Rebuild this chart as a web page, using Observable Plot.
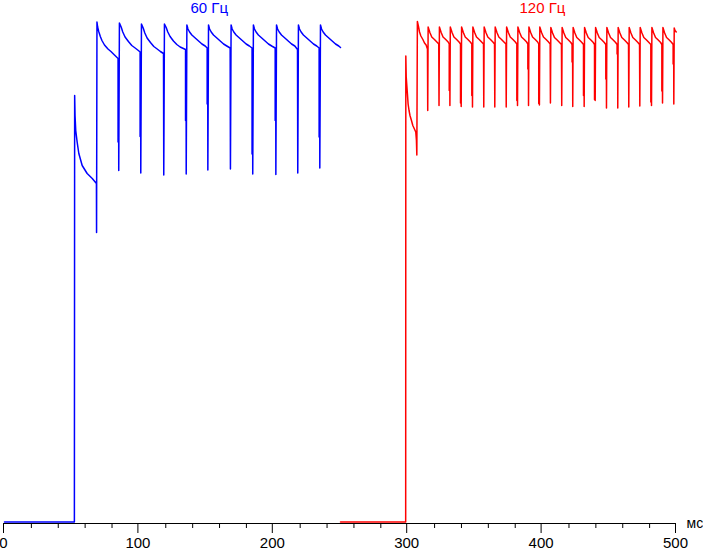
<!DOCTYPE html>
<html>
<head>
<meta charset="utf-8">
<script src="https://cdn.jsdelivr.net/npm/d3@7"></script>
<script src="https://cdn.jsdelivr.net/npm/@observablehq/plot@0.6"></script>
<style>
  html, body { margin: 0; padding: 0; background: #fff; }
</style>
</head>
<body>
<div id="chart"></div>
<script>
// time in ms, level in relative units (0..100)
const blue60 = [
[0,0.3],[52.0,0.3],[52.2,85.6],[52.5,81.5],[53.0,78.6],[54.1,76.2],[55.3,74.0],[57.8,71.6],[61.5,70.0],[65.3,69.0],[68.4,68.0],[68.5,58.2],[68.8,100.3],
[69.3,99.3],[70.1,98.4],[71.3,97.4],[72.5,96.6],[74.4,95.7],[77.0,94.9],[79.2,94.4],[82.2,93.6],[84.5,93.0],[84.5,76.3],[84.9,92.9],[85.0,70.6],[85.5,100.1],
[86.8,99.3],[88.0,98.3],[89.7,97.3],[92.2,96.4],[94.7,95.6],[97.2,95.1],[99.6,94.6],[100.9,94.3],[100.9,77.4],[101.3,94.2],[101.4,70.1],[101.9,99.9],
[103.2,99.1],[104.4,98.1],[106.1,97.1],[108.6,96.2],[111.1,95.4],[113.6,94.9],[116.0,94.4],[118.3,94.0],[118.5,69.7],[119.0,99.9],
[120.3,99.2],[121.5,98.3],[123.2,97.4],[125.7,96.5],[128.2,95.8],[130.7,95.3],[133.1,95.0],[134.7,94.8],[134.7,80.6],[135.1,94.7],[135.2,69.9],[135.7,99.7],
[136.5,98.9],[137.7,98.3],[139.4,97.7],[141.9,97.1],[144.4,96.5],[146.9,95.9],[149.3,95.5],[150.8,95.1],[150.8,83.9],[151.2,95.0],[151.3,70.7],[151.8,99.7],
[152.6,98.9],[153.8,98.3],[155.5,97.7],[158.0,97.1],[160.5,96.5],[163.0,95.9],[165.4,95.5],[167.9,95.1],[168.1,70.9],[168.6,99.7],
[169.4,98.9],[170.6,98.3],[172.3,97.7],[174.8,97.1],[177.3,96.5],[179.8,95.9],[182.2,95.5],[184.2,95.1],[184.2,73.9],[184.6,95.0],[184.7,69.9],[185.2,99.7],
[186.0,98.9],[187.2,98.3],[188.9,97.7],[191.4,97.1],[193.9,96.5],[196.4,95.9],[198.8,95.5],[201.4,95.1],[201.4,80.6],[201.8,95.0],[201.9,69.8],[202.4,99.7],
[203.2,98.9],[204.4,98.3],[206.1,97.7],[208.6,97.1],[211.1,96.5],[213.6,95.9],[216.0,95.5],[218.0,94.8],[218.2,70.1],[218.7,99.7],
[219.5,98.9],[220.7,98.3],[222.4,97.7],[224.9,97.1],[227.4,96.5],[229.9,95.9],[232.3,95.5],[234.1,95.1],[234.1,77.3],[234.5,95.0],[234.6,71.1],[235.1,99.7],
[235.9,98.9],[237.1,98.3],[238.8,97.7],[241.3,97.1],[243.8,96.5],[246.3,95.9],[248.7,95.5],[250.0,95.2]
];

const red120 = [
[250,0.3],[298.5,0.3],[298.6,93.5],[298.9,89.3],[299.8,85.9],[300.3,83.9],[301.0,82.6],[301.7,81.6],[302.8,80.6],[303.8,79.6],[305.0,78.9],[306.0,78.3],[306.5,76.6],[306.8,73.7],[307.2,100.4],
[308.1,99.3],[308.8,98.3],[309.8,97.5],[311.3,96.8],[312.5,96.1],[313.7,95.7],[314.7,94.9],[314.9,82.6],[315.2,99.3],
[315.9,98.7],[316.5,98.2],[317.9,97.3],[319.9,96.8],[321.7,96.3],[323.1,95.9],[323.3,83.6],[323.6,99.3],
[324.3,98.7],[324.9,98.2],[326.3,97.3],[328.3,96.8],[330.1,96.3],[330.9,95.9],[330.9,86.6],[331.3,95.8],[331.4,83.6],[331.7,99.3],
[332.4,98.7],[333.0,98.2],[334.4,97.3],[336.4,96.8],[338.2,96.3],[339.3,95.9],[339.3,84.1],[339.7,95.8],[339.8,83.4],[340.1,99.3],
[340.8,98.7],[341.4,98.2],[342.8,97.3],[344.8,96.8],[346.6,96.3],[347.7,95.9],[347.7,85.6],[348.1,95.8],[348.2,83.3],[348.5,99.3],
[349.2,98.7],[349.8,98.2],[351.2,97.3],[353.2,96.8],[355.0,96.3],[356.4,95.9],[356.6,83.3],[356.9,99.3],
[357.6,98.7],[358.2,98.2],[359.6,97.3],[361.6,96.8],[363.4,96.3],[364.6,95.9],[364.8,83.3],[365.1,99.3],
[365.8,98.7],[366.4,98.2],[367.8,97.3],[369.8,96.8],[371.6,96.3],[373.1,95.9],[373.3,83.3],[373.6,99.3],
[374.3,98.7],[374.9,98.2],[376.3,97.3],[378.3,96.8],[380.1,96.3],[381.2,95.9],[381.2,84.6],[381.6,95.8],[381.7,83.6],[382.0,99.3],
[382.7,98.7],[383.3,98.2],[384.7,97.3],[386.7,96.8],[388.5,96.3],[389.4,95.9],[389.4,90.9],[389.8,95.8],[389.9,83.6],[390.2,99.3],
[390.9,98.7],[391.5,98.2],[392.9,97.3],[394.9,96.8],[396.7,96.3],[397.5,95.9],[397.5,84.0],[397.9,95.8],[398.0,83.7],[398.3,99.3],
[399.0,98.7],[399.6,98.2],[401.0,97.3],[403.0,96.8],[404.8,96.3],[406.0,95.9],[406.2,84.1],[406.5,99.2],
[407.2,98.6],[407.8,98.1],[409.2,97.2],[411.2,96.7],[413.0,96.2],[414.4,95.8],[414.6,83.6],[414.9,99.2],
[415.6,98.6],[416.2,98.1],[417.6,97.2],[419.6,96.7],[421.4,96.2],[422.3,95.8],[422.3,92.3],[422.7,95.7],[422.8,83.4],[423.1,99.2],
[423.8,98.6],[424.4,98.1],[425.8,97.2],[427.8,96.7],[429.6,96.2],[430.8,95.8],[430.8,85.6],[431.2,95.7],[431.3,83.4],[431.6,99.2],
[432.3,98.6],[432.9,98.1],[434.3,97.2],[436.3,96.7],[438.1,96.2],[439.0,95.8],[439.0,84.8],[439.4,95.7],[439.5,84.6],[439.8,99.2],
[440.5,98.6],[441.1,98.1],[442.5,97.2],[444.5,96.7],[446.3,96.2],[447.4,95.8],[447.4,88.9],[447.8,95.7],[447.9,83.1],[448.2,99.2],
[448.9,98.6],[449.5,98.1],[450.9,97.2],[452.9,96.7],[454.7,96.2],[455.8,95.8],[455.8,93.9],[456.2,95.7],[456.3,83.1],[456.6,99.2],
[457.3,98.6],[457.9,98.1],[459.3,97.2],[461.3,96.7],[463.1,96.2],[464.3,95.8],[464.5,83.3],[464.8,99.2],
[465.5,98.6],[466.1,98.1],[467.5,97.2],[469.5,96.7],[471.3,96.2],[472.5,95.8],[472.7,83.5],[473.0,99.2],
[473.7,98.6],[474.3,98.1],[475.7,97.2],[477.7,96.7],[479.5,96.2],[480.9,95.8],[480.9,84.3],[481.3,95.7],[481.4,83.6],[481.7,99.2],
[482.4,98.6],[483.0,98.1],[484.4,97.2],[486.4,96.7],[488.2,96.2],[489.1,95.8],[489.1,86.5],[489.5,95.7],[489.6,84.1],[489.9,99.2],
[490.6,98.6],[491.2,98.1],[492.6,97.2],[494.6,96.7],[496.4,96.2],[497.5,95.8],[497.5,91.9],[497.9,95.7],[498.0,83.9],[498.3,99.1],
[498.9,98.6],[499.8,98.3]
];

const majorTicks = [0, 100, 200, 300, 400, 500];
const minorTicks = [20, 40, 60, 80, 120, 140, 160, 180, 220, 240, 260, 280, 320, 340, 360, 380, 420, 440, 460, 480];
const seriesLabels = [
  {t: 138.4, v: 102.2, text: "60 Гц", color: "#0000ff"},
  {t: 383.2, v: 102.2, text: "120 Гц", color: "#ff0000"}
];
const unitLabel = "мс";

const chart = Plot.plot({
  width: 703,
  height: 551,
  marginLeft: 4,
  marginRight: 27,
  marginTop: 23,
  marginBottom: 28,
  style: {fontFamily: "'Liberation Sans', Arial, sans-serif", fontSize: "15px", background: "#fff", color: "#000"},
  x: {domain: [0, 500], axis: null},
  y: {domain: [0, 100], axis: null},
  marks: [
    Plot.ruleY([0], {stroke: "#000", strokeWidth: 1}),
    Plot.axisX({ticks: minorTicks, tickSize: 5, tickFormat: () => "", label: null, stroke: "#000"}),
    Plot.axisX({ticks: majorTicks, tickSize: 10, tickPadding: 4, dx: -1, label: null, fontSize: 15, fill: "#000", stroke: "#000"}),
    Plot.line(blue60, {x: d => d[0], y: d => d[1], stroke: "#0000ff", strokeWidth: 1.5}),
    Plot.line(red120, {x: d => d[0], y: d => d[1], stroke: "#ff0000", strokeWidth: 1.5}),
    Plot.text(seriesLabels, {x: "t", y: "v", text: "text", fill: "color", textAnchor: "start", lineAnchor: "bottom", fontSize: 15}),
    Plot.text([unitLabel], {frameAnchor: "bottom-right", text: d => d, textAnchor: "start", lineAnchor: "middle", dx: 10, dy: 0, fontSize: 14, fill: "#000"})
  ]
});
document.getElementById("chart").appendChild(chart);
</script>
</body>
</html>
